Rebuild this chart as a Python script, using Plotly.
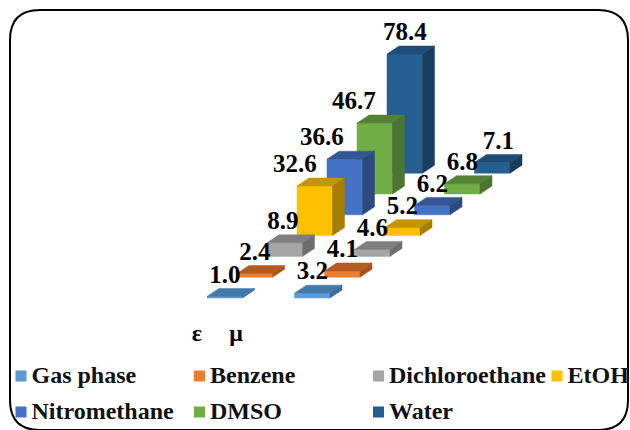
import plotly.graph_objects as go

# Solvent series and the two quantities plotted for each of them
solvents = ["Gas phase", "Benzene", "Dichloroethane", "EtOH", "Nitromethane", "DMSO", "Water"]
epsilon = [1.0, 2.4, 8.9, 32.6, 36.6, 46.7, 78.4]
mu = [3.2, 4.1, 4.6, 5.2, 6.2, 6.8, 7.1]
quantity_labels = ["ε", "μ"]

# Front, top and side shades of every series
front_colors = ["#5B9BD5", "#ED7D31", "#A5A5A5", "#FFC000", "#4472C4", "#70AD47", "#255E91"]
top_colors = ["#4478A8", "#B55A20", "#7F7F7F", "#C49500", "#335593", "#548235", "#1D4D77"]
side_colors = ["#3A6C9B", "#A8541E", "#6E6E6E", "#A67E00", "#2C4A80", "#4B7530", "#183D5F"]

# Oblique projection of the bar chart onto the page
PX_PER_UNIT = 1.52
BAR_W = 35.5
DEPTH_X, DEPTH_Y = 12, -8
STEP_X, STEP_Y = 30, -20.8
GROUP_X = [207, 294.5]
BASE_Y = 298

# Horizontal nudges of the value labels, by group and series
label_dx = [[0, 0, -2, -20, -23, -21, 0], [0, 0, 0, 0, 0, 0, 6]]
LABEL_DY = -20
FONT = "Liberation Serif"

fig = go.Figure()


def face(xs, ys, color):
    fig.add_trace(go.Scatter(
        x=xs + xs[:1], y=ys + ys[:1], mode="lines", fill="toself", fillcolor=color,
        line=dict(color=color, width=0.5), hoverinfo="skip", showlegend=False,
    ))


def draw_bar(group, series, value):
    left = GROUP_X[group] + STEP_X * series
    right = left + BAR_W
    bottom = BASE_Y + STEP_Y * series
    top = bottom - value * PX_PER_UNIT
    face([left, right, right, left], [bottom, bottom, top, top], front_colors[series])
    face([left, right, right + DEPTH_X, left + DEPTH_X],
         [top, top, top + DEPTH_Y, top + DEPTH_Y], top_colors[series])
    face([right, right + DEPTH_X, right + DEPTH_X, right],
         [bottom, bottom + DEPTH_Y, top + DEPTH_Y, top], side_colors[series])
    return (left + right) / 2, top


# Painter's order: rear series first so nearer bars overlap them
label_x, label_y, label_text = [], [], []
for s in reversed(range(len(solvents))):
    for g, values in enumerate([epsilon, mu]):
        cx, top_y = draw_bar(g, s, values[s])
        label_x.append(cx + label_dx[g][s])
        label_y.append(top_y + LABEL_DY)
        label_text.append(f"<b>{values[s]:.1f}</b>")

fig.add_trace(go.Scatter(
    x=label_x, y=label_y, text=label_text, mode="text", textposition="middle center",
    textfont=dict(family=FONT, size=25, color="#000000"), hoverinfo="skip", showlegend=False,
))

# Quantity captions below the bars
fig.add_trace(go.Scatter(
    x=[197, 236], y=[335, 335], text=[f"<b>{t}</b>" for t in quantity_labels], mode="text",
    textfont=dict(family=FONT, size=24, color="#000000"), hoverinfo="skip", showlegend=False,
))

# Hand-placed two-row legend
legend_x = [21, 199.5, 378.5, 557, 21, 199.5, 378.5]
legend_y = [377, 377, 377, 377, 413, 413, 413]
for name, color, lx, ly in zip(solvents, front_colors, legend_x, legend_y):
    fig.add_trace(go.Scatter(
        x=[lx], y=[ly - 1], mode="markers", marker=dict(symbol="square", size=11, color=color),
        hoverinfo="skip", showlegend=False,
    ))
    fig.add_trace(go.Scatter(
        x=[lx + 10.5], y=[ly], text=[f"<b>{name}</b>"], mode="text", textposition="middle right",
        textfont=dict(family=FONT, size=24, color="#111111"), hoverinfo="skip", showlegend=False,
    ))

# Rounded outer frame, running off the bottom of the page
frame = ("M 40 10 L 598 10 Q 628 10 628 40 L 628 400 Q 628 430 598 430 "
         "L 40 430 Q 10 430 10 400 L 10 40 Q 10 10 40 10 Z")

fig.update_layout(
    width=630, height=430, margin=dict(l=0, r=0, t=0, b=0),
    paper_bgcolor="#FFFFFF", plot_bgcolor="#FFFFFF", showlegend=False,
    xaxis=dict(range=[0, 630], visible=False, fixedrange=True),
    yaxis=dict(range=[430, 0], visible=False, fixedrange=True),
    shapes=[dict(type="path", path=frame, line=dict(color="#000000", width=2), layer="below")],
)

fig.write_html("out.html", config=dict(displayModeBar=False))
